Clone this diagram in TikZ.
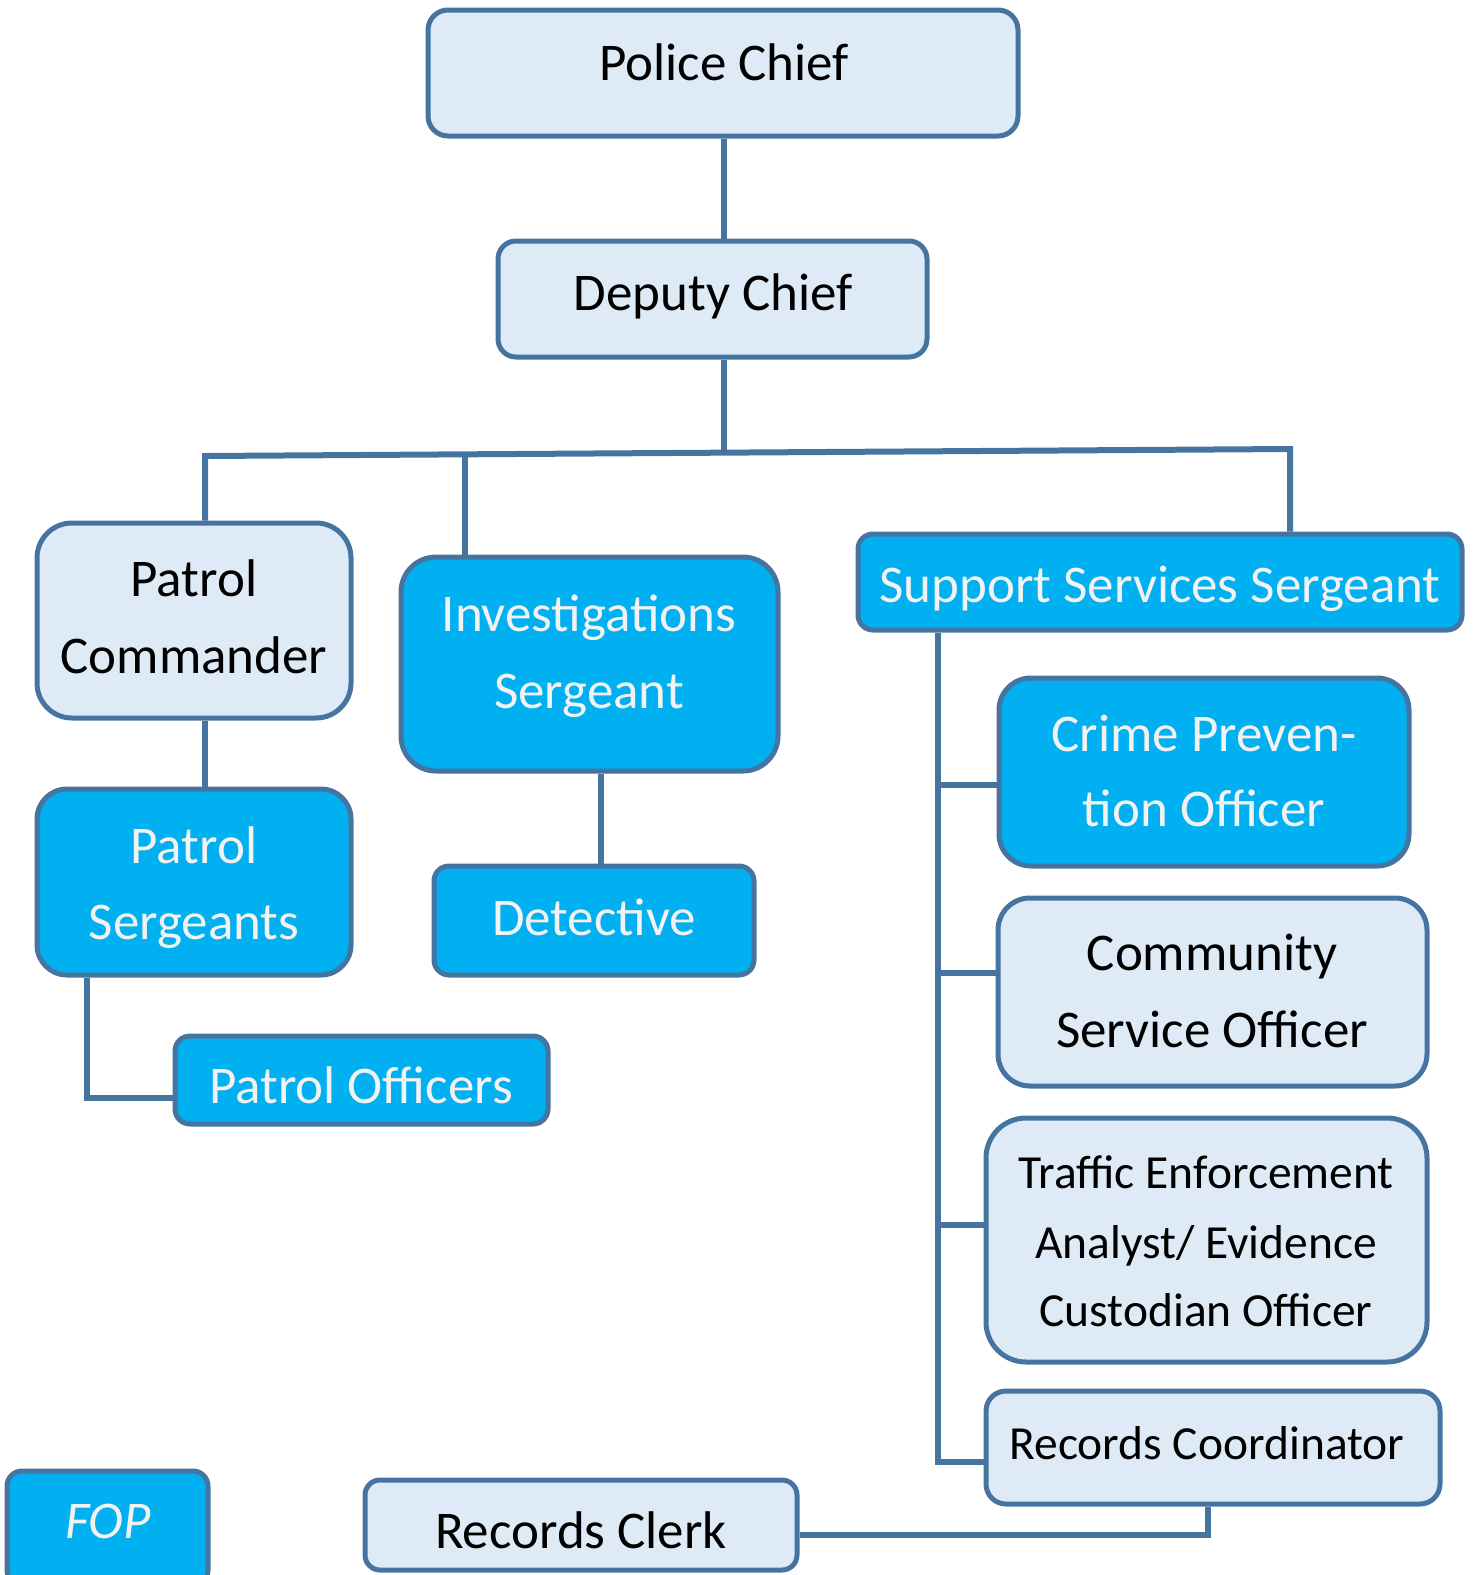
\documentclass[tikz,border=0pt]{standalone}
\usepackage{fontspec}
\setmainfont{Carlito}
\definecolor{bordc}{RGB}{70,116,160}
\definecolor{lightf}{RGB}{222,235,247}
\definecolor{bluef}{RGB}{0,176,240}
\definecolor{wtxt}{RGB}{242,242,242}
\tikzset{
  boxbase/.style={draw=bordc, line width=5pt, inner sep=0pt, rectangle},
  lbox/.style={boxbase, fill=lightf},
  bbox/.style={boxbase, fill=bluef},
  conn/.style={draw=bordc, line width=6pt},
  tl/.style={anchor=base, inner sep=0pt, font=\fontsize{53}{60}\selectfont, text=black},
  tw/.style={tl, text=wtxt},
  ts/.style={anchor=base, inner sep=0pt, font=\fontsize{47.5}{55}\selectfont, text=black},
}
\begin{document}
\begin{tikzpicture}[x=1pt,y=-1pt]
\useasboundingbox (0,0) rectangle (1478,1575);
% boxes
\node[lbox, minimum width=590pt, minimum height=126pt, rounded corners=20pt] (pc) at (723,73) {};
\node[lbox, minimum width=429pt, minimum height=116pt, rounded corners=18pt] (dc) at (712.5,299) {};
\node[lbox, minimum width=314pt, minimum height=195pt, rounded corners=35pt] (pcm) at (194,620.5) {};
\node[bbox, minimum width=377pt, minimum height=214pt, rounded corners=35pt] (inv) at (589.5,664) {};
\node[bbox, minimum width=604pt, minimum height=96pt, rounded corners=15pt] (sss) at (1160,582) {};
\node[bbox, minimum width=314pt, minimum height=186pt, rounded corners=30pt] (ps) at (194,882) {};
\node[bbox, minimum width=320pt, minimum height=109pt, rounded corners=15pt] (det) at (594,920.5) {};
\node[bbox, minimum width=373pt, minimum height=88pt, rounded corners=15pt] (po) at (361.5,1080) {};
\node[bbox, minimum width=410pt, minimum height=188pt, rounded corners=32pt] (cpo) at (1204,772) {};
\node[lbox, minimum width=429pt, minimum height=188pt, rounded corners=32pt] (cso) at (1212.5,992) {};
\node[lbox, minimum width=441pt, minimum height=244pt, rounded corners=40pt] (tea) at (1206.5,1240) {};
\node[lbox, minimum width=454pt, minimum height=113pt, rounded corners=20pt] (rco) at (1213,1447.5) {};
\node[lbox, minimum width=432pt, minimum height=90pt, rounded corners=15pt] (rcl) at (581,1525) {};
\node[bbox, minimum width=201pt, minimum height=114pt, rounded corners=15pt] (fop) at (107.5,1528) {};
% texts
\node[tl] (t1) at (724,80) {Police Chief};
\node[tl] (t2) at (713,310) {Deputy Chief};
\node[tl] (t3a) at (194,596) {Patrol};
\node[tl] (t3b) at (194,673) {Commander};
\node[tw] (t4a) at (589,631) {Investigations};
\node[tw] (t4b) at (589,708) {Sergeant};
\node[tw] (t5) at (1160,602) {Support Services Sergeant};
\node[tw] (t6a) at (194,863) {Patrol};
\node[tw] (t6b) at (194,939) {Sergeants};
\node[tw] (t7) at (594,935) {Detective};
\node[tw] (t8) at (361,1103) {Patrol Officers};
\node[tw] (t9a) at (1204,751) {Crime Preven-};
\node[tw] (t9b) at (1204,826) {tion Officer};
\node[tl] (t10a) at (1212,970) {Community};
\node[tl] (t10b) at (1212,1047) {Service Officer};
\node[ts] (t11a) at (1206,1188) {Traffic Enforcement};
\node[ts] (t11b) at (1206,1258) {Analyst/ Evidence};
\node[ts] (t11c) at (1206,1326) {Custodian Officer};
\node[ts] (t12) at (1207,1459) {Records Coordinator};
\node[tl] (t13) at (581,1548) {Records Clerk};
\node[tw, font=\fontsize{53}{60}\selectfont\itshape] (t14) at (108,1538) {FOP};
% junction coordinates
\coordinate (jL) at (205,456);
\coordinate (jI) at (465,455);
\coordinate (jM) at (724,451);
\coordinate (jR) at (1290,449);
\coordinate (xPC) at (724,0);
\coordinate (xPCm) at (205,0);
\coordinate (xDet) at (601,0);
\coordinate (xPS) at (87,0);
\coordinate (yPO) at (0,1098);
\coordinate (spine) at (938,0);
\coordinate (yCPO) at (0,785);
\coordinate (yCSO) at (0,973);
\coordinate (yTEA) at (0,1225);
\coordinate (yRCO) at (0,1462);
\coordinate (yRCL) at (0,1535);
\coordinate (xRCO) at (1208,0);
% connectors
\draw[conn] (pc.south -| xPC) -- (dc.north -| xPC);
\draw[conn] (dc.south -| xPC) -- (jM);
\draw[conn] (pcm.north -| jL) -- (jL) -- (jR) -- (sss.north -| jR);
\draw[conn] (jI) -- (inv.north -| jI);
\draw[conn] (pcm.south -| xPCm) -- (ps.north -| xPCm);
\draw[conn] (inv.south -| xDet) -- (det.north -| xDet);
\draw[conn] (ps.south -| xPS) -- (xPS |- yPO) -- (po.west |- yPO);
\draw[conn] (sss.south -| spine) -- (spine |- yRCO) -- (rco.west |- yRCO);
\draw[conn] (spine |- yCPO) -- (cpo.west |- yCPO);
\draw[conn] (spine |- yCSO) -- (cso.west |- yCSO);
\draw[conn] (spine |- yTEA) -- (tea.west |- yTEA);
\draw[conn] (rcl.east |- yRCL) -- (xRCO |- yRCL) -- (rco.south -| xRCO);
\end{tikzpicture}
\end{document}
